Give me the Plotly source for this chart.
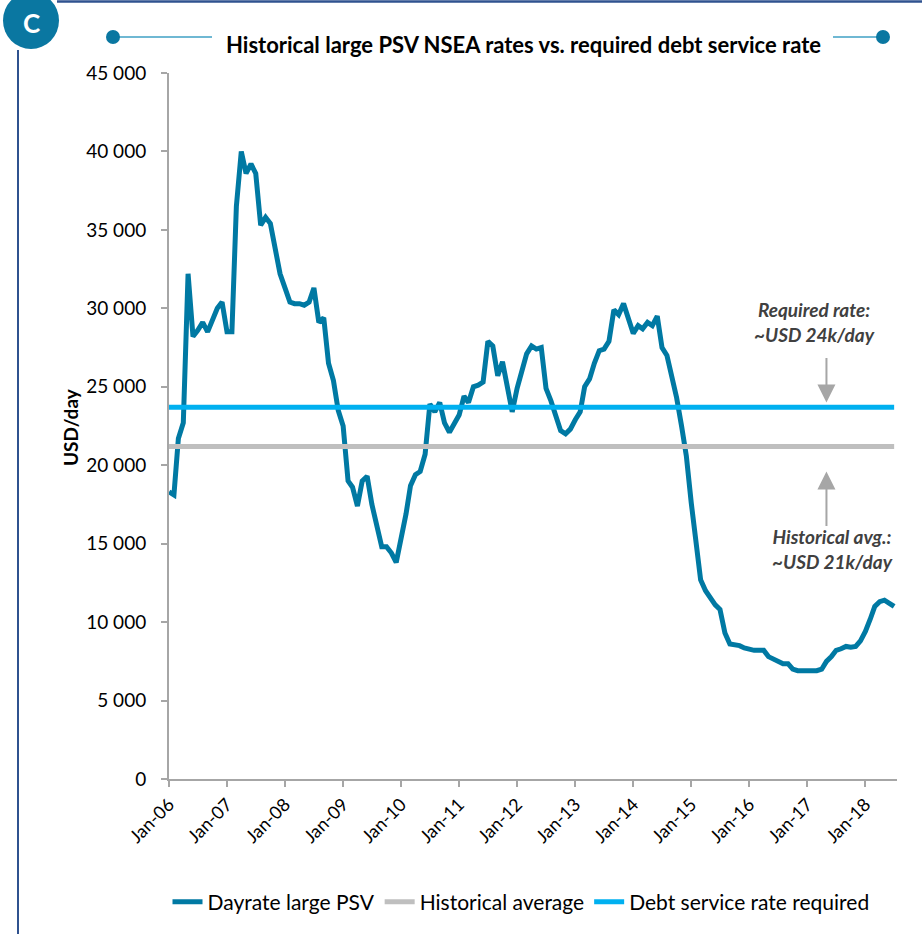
import pandas as pd
import plotly.graph_objects as go

# Monthly day rates for large PSVs in the North Sea, Jan-2006 .. Jul-2018 (USD/day)
dayrate = [
    18300, 18100, 21700, 22700, 32200, 28200, 28600, 29100, 28500, 29300, 30000, 30400,  # 2006
    28500, 28500, 36500, 40000, 38600, 39200, 38600, 35300, 35800, 35400, 33900, 32200,  # 2007
    31300, 30400, 30300, 30300, 30200, 30400, 31300, 29100, 29400, 26500, 25400, 23500,  # 2008
    22500, 19000, 18600, 17400, 19000, 19300, 17500, 16200, 14800, 14800, 14400, 13800,  # 2009
    15300, 16900, 18700, 19400, 19600, 20700, 23900, 23400, 24000, 22700, 22100, 22600,  # 2010
    23200, 24400, 24000, 25000, 25100, 25300, 27900, 27600, 25700, 26600, 25000, 23400,  # 2011
    24900, 26200, 27100, 27600, 27400, 27500, 24900, 24100, 23200, 22200, 22000, 22300,  # 2012
    22900, 23400, 25000, 25500, 26500, 27300, 27400, 27900, 29900, 29600, 30300, 29400,  # 2013
    28400, 28900, 28700, 29100, 28900, 29500, 27500, 27000, 25600, 24300, 22500, 20600,  # 2014
    17600, 14800, 12700, 12000, 11500, 11100, 10800, 9300, 8600, 8550, 8500, 8350,       # 2015
    8250, 8200, 8200, 8200, 7800, 7650, 7450, 7350, 7350, 7000, 6900, 6900,              # 2016
    6900, 6850, 6900, 7000, 7500, 7800, 8200, 8300, 8450, 8400, 8450, 8800,              # 2017
    9400, 10200, 11000, 11300, 11400, 11200, 11000,                                      # 2018
]
months = pd.date_range("2006-01-01", periods=len(dayrate), freq="MS")

historical_average = 21200
debt_service_rate = 23700

series_names = ["Dayrate large PSV", "Historical average", "Debt service rate required"]
series_colors = ["#0079A3", "#BFBFBF", "#00B0F0"]

title_text = "Historical large PSV NSEA rates vs. required debt service rate"
y_title = "USD/day"
required_note = "Required rate:<br>~USD 24k/day"
average_note = "Historical avg.:<br>~USD 21k/day"

# Page geometry (pixels) used to place decorations around the plot area
W, H = 922, 934
L, R, T, B = 169, 897, 73, 779


def px(xp):
    return (xp - L) / (R - L)


def py(yp):
    return (B - yp) / (B - T)


fig = go.Figure()
fig.add_trace(go.Scatter(x=months, y=dayrate, mode="lines", name=series_names[0],
                         line=dict(color=series_colors[0], width=5)))
fig.add_trace(go.Scatter(x=[months[0], months[-1]], y=[historical_average] * 2, mode="lines",
                         name=series_names[1], line=dict(color=series_colors[1], width=5)))
fig.add_trace(go.Scatter(x=[months[0], months[-1]], y=[debt_service_rate] * 2, mode="lines",
                         name=series_names[2], line=dict(color=series_colors[2], width=5)))

font_family = "Lato, 'Open Sans', sans-serif"
axis_grey = "#A6A6A6"

fig.update_layout(
    width=W, height=H,
    margin=dict(l=L, r=W - R, t=T, b=H - B, autoexpand=False),
    plot_bgcolor="white", paper_bgcolor="white",
    separators=". ",
    font=dict(family=font_family, color="#000000"),
    showlegend=True,
    legend=dict(orientation="h", x=px(521), y=py(902), xanchor="center", yanchor="middle",
                font=dict(size=21, color="#000000"), itemwidth=30, tracegroupgap=0),
)

fig.update_xaxes(
    type="date", range=["2006-01-01", "2018-07-19"],
    tick0="2006-01-01", dtick="M12", tickformat="%b-%y", tickangle=-45,
    ticks="outside", ticklen=6, tickwidth=1.5, tickcolor=axis_grey,
    showline=True, linecolor=axis_grey, linewidth=2, showgrid=False, zeroline=False,
    tickfont=dict(size=18, color="#000000"),
)
fig.update_yaxes(
    range=[0, 45000], dtick=5000, tickformat=",d",
    ticks="outside", ticklen=6, tickwidth=1.5, tickcolor=axis_grey,
    showline=True, linecolor=axis_grey, linewidth=2, showgrid=False, zeroline=False,
    tickfont=dict(size=19, color="#000000"), ticklabelstandoff=11,
)

frame_blue = "#2F528F"
accent = "#0A77A1"
accent_line = "#3FA0C4"

shapes = [
    # top rule and left rule of the panel
    dict(type="line", xref="paper", yref="paper", x0=px(57), x1=px(W), y0=py(1.5), y1=py(1.5),
         line=dict(color=frame_blue, width=2.5)),
    dict(type="line", xref="paper", yref="paper", x0=px(18), x1=px(18), y0=py(50), y1=py(H),
         line=dict(color=frame_blue, width=2)),
    # panel badge
    dict(type="circle", xref="paper", yref="paper", x0=px(3), x1=px(59), y0=py(49), y1=py(-8),
         fillcolor=accent, line=dict(color=accent, width=0)),
    # title decorations
    dict(type="line", xref="paper", yref="paper", x0=px(113), x1=px(212), y0=py(37), y1=py(37),
         line=dict(color=accent_line, width=1.5)),
    dict(type="circle", xref="paper", yref="paper", x0=px(106), x1=px(120), y0=py(44), y1=py(30),
         fillcolor=accent, line=dict(color=accent, width=0)),
    dict(type="line", xref="paper", yref="paper", x0=px(833), x1=px(883), y0=py(37), y1=py(37),
         line=dict(color=accent_line, width=1.5)),
    dict(type="circle", xref="paper", yref="paper", x0=px(876), x1=px(890), y0=py(44), y1=py(30),
         fillcolor=accent, line=dict(color=accent, width=0)),
]
fig.update_layout(shapes=shapes)

note_color = "#404040"
arrow_color = "#A6A6A6"
arrow_x = "2017-05-01"


def label(text, xp, yp, size, color="#000000", angle=0):
    return dict(text=text, xref="paper", yref="paper", x=px(xp), y=py(yp),
                xanchor="center", yanchor="middle", showarrow=False, textangle=angle,
                align="center", font=dict(size=size, color=color, family=font_family))


annotations = [
    label("<b>C</b>", 31, 23, 26, "white"),
    label("<b>" + title_text + "</b>", 523, 44, 22),
    label("<b>" + y_title + "</b>", 70, 427, 19, angle=-90),
    label("<b><i>" + required_note + "</i></b>", 814, 322, 19, note_color),
    label("<b><i>" + average_note + "</i></b>", 832, 549, 19, note_color),
    # arrows pointing at the two reference levels
    dict(text="", xref="x", yref="y", x=arrow_x, y=debt_service_rate + 300, ax=0, ay=-46,
         showarrow=True, arrowhead=2, arrowsize=1.8, arrowwidth=2, arrowcolor=arrow_color),
    dict(text="", xref="x", yref="y", x=arrow_x, y=historical_average - 1600, ax=0, ay=56,
         showarrow=True, arrowhead=2, arrowsize=1.8, arrowwidth=2, arrowcolor=arrow_color),
]
fig.update_layout(annotations=annotations)

fig.write_html("out.html")
